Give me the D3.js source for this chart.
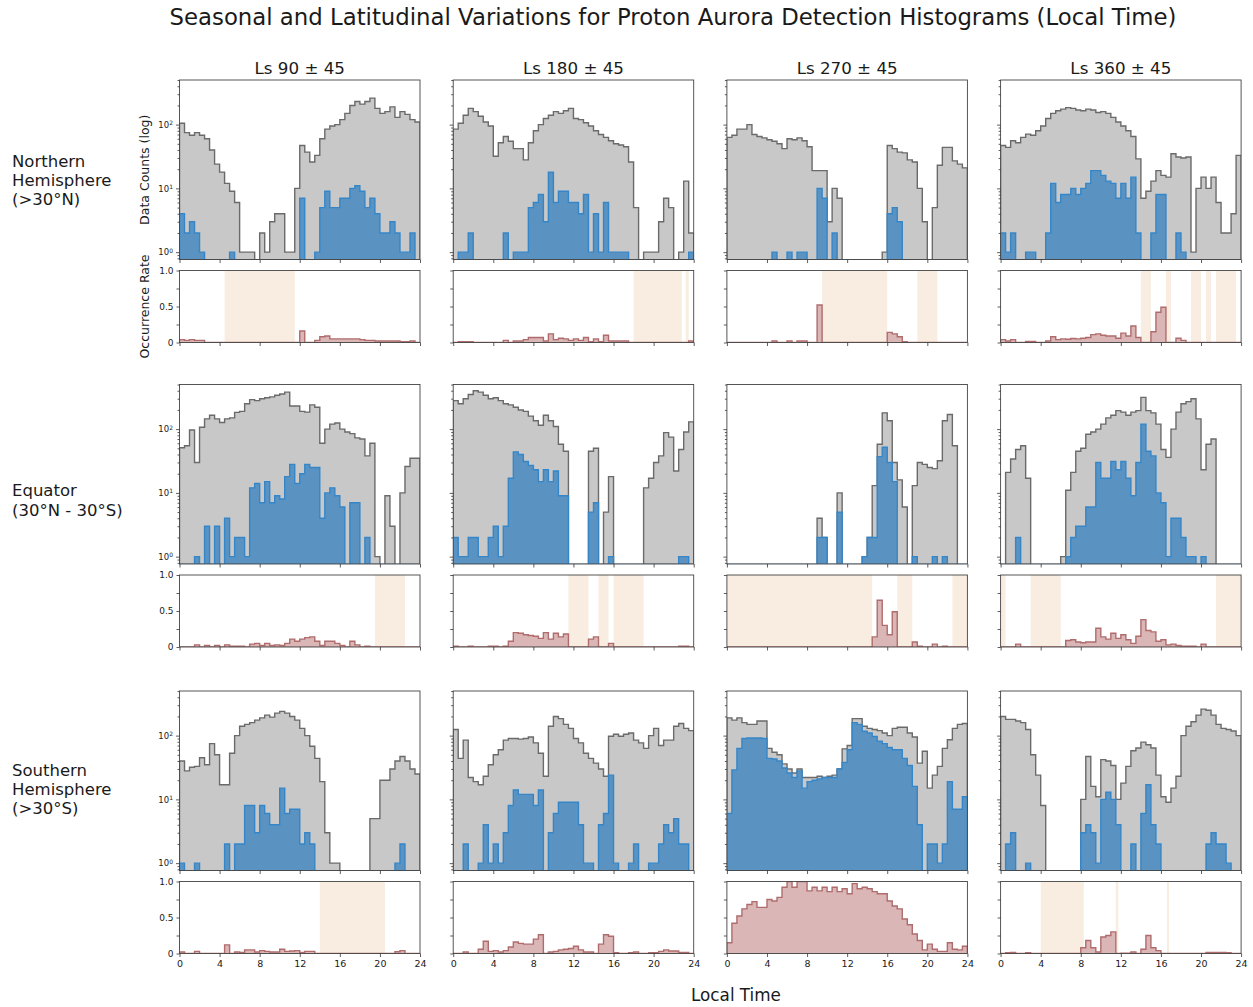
<!DOCTYPE html>
<html>
<head>
<meta charset="utf-8">
<script src="https://cdn.jsdelivr.net/npm/d3@7"></script>
<style>
  body { margin: 0; background: #fff; }
  svg text { font-family: "DejaVu Sans", sans-serif; fill: #1a1a1a; }
</style>
</head>
<body>
<svg id="chart" width="1253" height="1007"></svg>
<script>
const hourTicks = [0, 4, 8, 12, 16, 20, 24];
const seasons = ['Ls 90 ± 45', 'Ls 180 ± 45', 'Ls 270 ± 45', 'Ls 360 ± 45'];
const regions = [
  ['Northern', 'Hemisphere', '(>30°N)'],
  ['Equator', '(30°N - 30°S)'],
  ['Southern', 'Hemisphere', '(>30°S)']
];

// 48 half-hour bins per panel: all detections (grey), aurora detections (blue), occurrence rate
const totalN90 = [105,75,68,75,68,60,40,24,18,12, 9,6,1,1,1,0,2,1,3,4, 4,1,1,10,47,37,26,33,60,85, 95,100,120,150,200,230,210,230,260,180, 150,160,190,130,160,145,120,110];
const auroraN90 = [4,2,3,2,1,0,0,0,0,0, 1,0,0,0,0,0,0,0,0,0, 0,0,0,0,7,0,0,1,5,9, 5,5,7,7,10,11,9,5,7,4, 2,2,3,2,1,1,2,0];
const rateN90 = [0.04,0.03,0.04,0.03,0.03,0,0,0,0,0, 0,0,0,0,0,0,0,0,0,0, 0,0,0,0,0.16,0,0,0.03,0.08,0.09, 0.05,0.05,0.05,0.05,0.05,0.05,0.04,0.03,0.03,0.02, 0.02,0.02,0.02,0.02,0.01,0.01,0.02,0];
const shadeN90 = [[4.5, 11.5]];

const totalN180 = [85,105,140,180,160,135,110,95,32,52, 65,55,42,42,28,52,80,100,125,140, 160,150,165,180,125,120,107,95,80,70, 63,56,50,48,45,26,5,0,1,1, 1,3,7,5,0,1,13,2];
const auroraN180 = [0,1,1,2,0,0,0,0,0,0, 2,0,1,1,1,5,6,8,3,18, 6,9,9,6,6,4,8,1,4,1, 6,1,1,1,1,0,0,0,0,0, 0,0,0,0,0,0,0,1];
const rateN180 = [0,0.01,0.01,0.01,0,0,0,0,0,0, 0.03,0,0.02,0.02,0.04,0.07,0.07,0.07,0.02,0.12, 0.04,0.06,0.05,0.03,0.05,0.03,0.07,0.01,0.05,0.01, 0.1,0.02,0.02,0.02,0.02,0,0,0,0,0, 0,0,0,0,0,0,0,0.02];
const shadeN180 = [[18, 22.8], [23.2, 23.5]];

const totalN270 = [63,68,85,85,100,70,65,62,58,55, 50,42,60,58,62,56,45,19,19,19, 3,10,7,0,0,0,0,0,0,0, 0,1,47,42,37,36,28,26,10,3, 0,5,23,44,44,27,24,21];
const auroraN270 = [0,0,0,0,0,0,0,0,0,1, 0,0,1,0,1,1,0,0,10,7, 0,2,0,0,0,0,0,0,0,0, 0,0,4,5,3,0,0,0,0,0, 0,0,0,0,0,0,0,0];
const rateN270 = [0,0,0,0,0,0,0,0,0,0.02, 0,0,0.02,0,0.02,0.02,0,0,0.52,0, 0,0,0,0,0,0,0,0,0,0, 0,0,0.14,0.12,0.08,0.01,0,0,0,0, 0,0,0,0,0,0,0,0];
const shadeN270 = [[9.5, 16], [19, 21]];

const totalN360 = [47,44,56,52,63,71,68,80,95,125, 150,165,175,185,180,170,165,175,170,155, 160,150,130,110,95,80,65,29,7,9, 13,19,16,15,35,31,30,31,1,10, 15,10,15,6,2,2,4,33];
const auroraN360 = [2,1,2,0,0,1,1,0,0,2, 12,6,8,8,10,8,10,12,19,19, 16,13,12,7,12,7,15,2,0,0, 2,8,8,0,0,2,1,0,0,0, 0,0,0,0,0,0,0,0];
const rateN360 = [0.04,0.02,0.04,0,0,0.015,0.015,0,0,0.02, 0.08,0.04,0.05,0.045,0.055,0.05,0.06,0.07,0.11,0.12, 0.1,0.09,0.09,0.06,0.13,0.09,0.23,0.07,0,0, 0.15,0.42,0.49,0,0,0.06,0.03,0,0,0, 0,0,0,0,0,0,0,0];
const shadeN360 = [[14, 15], [16.5, 17], [19, 20], [20.5, 21], [21.5, 23.5]];

const totalE90 = [51,55,97,30,107,145,165,145,127,145, 150,183,190,250,290,280,300,310,320,340, 355,380,230,230,190,185,240,220,60,100, 120,125,100,90,85,73,70,38,60,1, 0,9,3,0,10,26,35,35];
const auroraE90 = [0,0,0,1,0,3,0,3,0,4, 1,2,2,1,12,14,7,15,7,9, 8,18,28,14,20,28,25,25,4,10, 12,9,6,0,7,7,0,2,0,0, 0,0,0,0,0,0,0,0];
const rateE90 = [0,0,0,0.03,0,0.02,0,0.02,0,0.03, 0.01,0.01,0.01,0,0.04,0.05,0.02,0.05,0.02,0.03, 0.02,0.05,0.11,0.08,0.11,0.13,0.14,0.08,0.02,0.08, 0.08,0.05,0.02,0,0.08,0.03,0,0.01,0,0, 0,0,0,0,0,0,0,0];
const shadeE90 = [[19.5, 22.5]];

const totalE180 = [280,250,300,350,400,380,340,300,310,280, 250,240,220,200,190,160,135,115,165,135, 110,58,45,0,0,0,0,45,50,0, 5,18,0,0,0,0,0,0,12,17, 30,38,88,75,22,48,90,130];
const auroraE180 = [2,1,1,2,2,1,1,2,3,1, 3,17,44,40,31,27,23,15,23,15, 22,9,9,0,0,0,0,5,7,0, 0,1,0,0,0,0,0,0,0,0, 0,0,0,0,0,1,1,0];
const rateE180 = [0.01,0,0,0.01,0,0,0,0.01,0.01,0, 0.01,0.08,0.2,0.19,0.17,0.16,0.15,0.12,0.2,0.11, 0.19,0.14,0.18,0,0,0,0,0.11,0.14,0, 0,0.05,0,0,0,0,0,0,0,0, 0,0,0,0,0,0.01,0.01,0];
const shadeE180 = [[11.5, 13.5], [14.5, 15.5], [16, 19]];

const totalE270 = [0,0,0,0,0,0,0,0,0,0, 0,0,0,0,0,0,0,0,4,2, 0,0,10,0,0,0,0,1,2,13, 58,180,135,30,16,6,0,13,30,28, 25,24,32,135,170,55,0,0];
const auroraE270 = [0,0,0,0,0,0,0,0,0,0, 0,0,0,0,0,0,0,0,2,2, 0,0,5,0,0,0,0,1,2,2, 37,52,30,15,0,0,0,1,0,0, 0,1,0,1,0,0,0,0];
const rateE270 = [0,0,0,0,0,0,0,0,0,0, 0,0,0,0,0,0,0,0,0,0, 0,0,0,0,0,0,0,0,0,0.14, 0.65,0.3,0.17,0.49,0,0,0,0.07,0.01,0, 0,0.04,0,0.01,0,0,0,0];
const shadeE270 = [[0, 14.5], [17, 18.5], [22.5, 24]];

const totalE360 = [0,21,34,48,55,17,0,0,0,0, 0,0,1,11,21,45,50,83,90,100, 120,150,165,195,185,165,185,195,315,195, 180,120,48,36,100,185,250,270,300,145, 23,58,70,0,0,0,0,0];
const auroraE360 = [0,0,0,2,0,0,0,0,0,0, 0,0,0,1,2,3,3,6,6,30, 17,17,31,23,31,17,9,30,120,45, 38,10,7,1,4,4,2,1,1,0, 1,0,0,0,0,0,0,0];
const rateE360 = [0,0,0,0.04,0,0,0,0,0,0, 0,0,0,0.09,0.1,0.07,0.06,0.07,0.07,0.26, 0.14,0.11,0.19,0.12,0.17,0.1,0.05,0.15,0.38,0.23, 0.21,0.08,0.1,0.03,0.04,0.02,0.01,0.01,0.01,0, 0.04,0,0,0,0,0,0,0];
const shadeE360 = [[0, 0.5], [3, 6], [21.5, 24]];

const totalS90 = [40,28,32,33,45,35,75,50,17,17, 53,100,140,150,160,175,190,210,195,225, 240,225,200,175,130,100,68,44,19,3, 1,1,0,0,0,0,0,0,5,5, 20,20,30,40,47,40,30,25];
const auroraS90 = [1,0,0,1,0,0,0,0,0,2, 0,2,2,8,8,3,8,6,4,4, 15,6,7,7,2,3,2,0,0,0, 0,0,0,0,0,0,0,0,0,0, 0,0,0,1,2,0,0,0];
const rateS90 = [0.02,0,0,0.03,0,0,0,0,0,0.12, 0,0.02,0.015,0.05,0.05,0.02,0.04,0.03,0.02,0.02, 0.06,0.03,0.035,0.04,0.015,0.03,0.03,0,0,0, 0,0,0,0,0,0,0,0,0,0, 0,0,0,0.025,0.04,0,0,0];
const shadeS90 = [[14, 20.5]];

const totalS180 = [125,44,85,22,19,17,23,35,50,60, 85,90,90,88,90,95,77,53,23,140, 200,185,150,130,90,77,53,44,37,30, 23,98,105,98,105,110,85,77,63,100, 130,70,85,85,140,155,130,120];
const auroraS180 = [0,0,2,0,0,1,4,1,2,1, 3,8,14,12,12,12,8,14,0,3, 6,9,9,9,9,4,1,1,0,4, 6,24,1,0,0,1,2,0,0,1, 1,2,4,3,5,2,2,0];
const rateS180 = [0,0,0.02,0,0,0.06,0.17,0.03,0.04,0.02, 0.04,0.09,0.16,0.14,0.13,0.13,0.2,0.26,0,0.02, 0.03,0.05,0.06,0.07,0.1,0.05,0.02,0.02,0,0.13, 0.26,0.24,0.01,0,0,0.01,0.02,0,0,0.01, 0.01,0.03,0.05,0.035,0.035,0.015,0.015,0];
const shadeS180 = [];

const totalS270 = [190,175,190,160,150,150,170,170,63,55, 50,36,30,26,30,22,22,22,23,22, 23,24,30,62,70,185,185,140,130,125, 120,110,100,130,135,135,110,95,37,57, 15,24,33,63,86,130,150,155];
const auroraS270 = [6,29,63,90,92,92,92,90,44,43, 40,31,26,22,28,15,19,20,21,22, 22,22,30,38,60,160,150,117,110,97, 82,75,65,60,60,44,34,16,4,0, 2,2,1,2,19,7,7,11];
const rateS270 = [0.15,0.42,0.52,0.62,0.68,0.72,0.64,0.64,0.75,0.73, 0.78,0.92,1.0,0.92,1.0,1.0,0.87,0.92,0.87,0.92, 0.86,0.92,0.86,0.9,0.83,0.97,0.9,0.92,0.9,0.86, 0.83,0.83,0.73,0.66,0.62,0.48,0.4,0.27,0.18,0.05, 0.13,0.06,0.03,0.03,0.15,0.06,0.05,0.1];
const shadeS270 = [];

const totalS360 = [200,180,180,170,160,125,50,24,8,0, 0,0,0,0,0,0,10,47,16,11, 42,40,34,10,18,33,58,64,79,72, 64,24,11,9,15,23,100,140,165,210, 260,250,210,150,130,125,118,100];
const auroraS360 = [0,2,3,0,0,1,0,0,0,0, 0,0,0,0,0,0,3,4,3,1, 10,13,10,4,0,0,2,0,6,17, 4,2,0,0,0,0,0,0,0,0, 0,2,3,2,2,1,0,0];
const rateS360 = [0,0.01,0.015,0,0,0.01,0,0,0,0, 0,0,0,0,0,0,0.08,0.18,0.08,0.02, 0.23,0.25,0.3,0,0.005,0.005,0.02,0,0.06,0.25, 0.08,0.04,0,0,0,0,0,0,0,0, 0,0.015,0.015,0.015,0.015,0.01,0,0];
const shadeS360 = [[4, 8.3], [11.5, 11.75], [16.6, 16.8]];

const panels = [
  [[totalN90, auroraN90, rateN90, shadeN90], [totalN180, auroraN180, rateN180, shadeN180],
   [totalN270, auroraN270, rateN270, shadeN270], [totalN360, auroraN360, rateN360, shadeN360]],
  [[totalE90, auroraE90, rateE90, shadeE90], [totalE180, auroraE180, rateE180, shadeE180],
   [totalE270, auroraE270, rateE270, shadeE270], [totalE360, auroraE360, rateE360, shadeE360]],
  [[totalS90, auroraS90, rateS90, shadeS90], [totalS180, auroraS180, rateS180, shadeS180],
   [totalS270, auroraS270, rateS270, shadeS270], [totalS360, auroraS360, rateS360, shadeS360]]
];

const svg = d3.select('#chart');
const panelW = 240.5, histH = 179.5, rateH = 72, rateOff = 190.5;
const colLeft = c => 179.5 + c * 273.7;
const rowTop = [80, 384.5, 691];
const labelMid = [180, 500, 789];

const x = d3.scaleLinear().domain([0, 24]).range([0, panelW]);
const y = d3.scaleLog().domain([0.767, 501]).range([histH, 0]);
const yr = d3.scaleLinear().domain([0, 1]).range([rateH, 0]);
const edges = d3.range(49).map(i => i * 0.5);

const majorLog = [1, 10, 100];
const minorLog = [];
[0.1, 1, 10, 100].forEach(p => d3.range(2, 10).forEach(m => {
  const v = m * p;
  if (v >= y.domain()[0] && v <= y.domain()[1]) minorLog.push(v);
}));

// turn bin values into step points (last edge repeats last bin)
const steps = vals => edges.map((t, i) => ({ t, v: vals[Math.min(i, vals.length - 1)] }));

function styleAxis(g, size) {
  g.select('.domain').remove();
  g.selectAll('.tick line').attr('stroke', '#333').attr('stroke-width', 0.8);
  g.attr('font-family', 'DejaVu Sans').attr('font-size', size);
  g.selectAll('.tick text').attr('fill', '#1a1a1a');
}

panels.forEach((row, r) => row.forEach((p, c) => {
  const [total, aurora, rate, shade] = p;
  const g = svg.append('g').attr('transform', `translate(${colLeft(c)},${rowTop[r]})`);

  // --- histogram (log counts)
  const clipId = `clip-${r}-${c}`;
  g.append('clipPath').attr('id', clipId)
    .append('rect').attr('width', panelW).attr('height', histH);
  const hist = g.append('g').attr('clip-path', `url(#${clipId})`);

  const histArea = d3.area()
    .curve(d3.curveStepAfter)
    .x(d => x(d.t))
    .y0(histH + 0.5)
    .y1(d => d.v > 0 ? y(d.v) : histH + 0.5);

  hist.append('path').datum(steps(total))
    .attr('d', histArea)
    .attr('fill', '#c8c8c8').attr('stroke', '#6a6a6a').attr('stroke-width', 1.4);
  hist.append('path').datum(steps(aurora))
    .attr('d', histArea)
    .attr('fill', '#5a93c1').attr('stroke', '#3486c9').attr('stroke-width', 1.4);

  g.append('rect').attr('width', panelW).attr('height', histH)
    .attr('fill', 'none').attr('stroke', '#444').attr('stroke-width', 0.9);

  g.append('g').attr('transform', `translate(0,${histH})`)
    .call(d3.axisBottom(x).tickValues(hourTicks).tickSize(3.5).tickSizeOuter(0).tickFormat(() => ''))
    .call(a => styleAxis(a, 9));

  g.append('g')
    .call(d3.axisLeft(y).tickValues(minorLog).tickSize(2).tickFormat(() => ''))
    .call(a => styleAxis(a, 9));
  const yAx = g.append('g')
    .call(d3.axisLeft(y).tickValues(majorLog).tickSize(3.5).tickPadding(3).tickFormat(() => ''))
    .call(a => styleAxis(a, 8.5));
  if (c === 0) {
    yAx.selectAll('.tick text').each(function (d) {
      const t = d3.select(this);
      t.text('10');
      t.append('tspan').attr('dy', '-0.45em').attr('font-size', 6).text(Math.round(Math.log10(d)));
    });
  }

  // --- occurrence rate
  const rg = g.append('g').attr('transform', `translate(0,${rateOff})`);
  const rClip = `rclip-${r}-${c}`;
  rg.append('clipPath').attr('id', rClip)
    .append('rect').attr('width', panelW).attr('height', rateH);
  const rate_g = rg.append('g').attr('clip-path', `url(#${rClip})`);

  rate_g.selectAll('.shade').data(shade).enter().append('rect')
    .attr('class', 'shade')
    .attr('x', d => x(d[0]))
    .attr('width', d => x(d[1]) - x(d[0]))
    .attr('y', 0).attr('height', rateH)
    .attr('fill', '#f9ede1');

  const rateArea = d3.area()
    .curve(d3.curveStepAfter)
    .x(d => x(d.t))
    .y0(yr(0) + 0.5)
    .y1(d => yr(d.v));
  rate_g.append('path').datum(steps(rate))
    .attr('d', rateArea)
    .attr('fill', '#dab6b6').attr('stroke', '#b06c6c').attr('stroke-width', 1.4);

  rg.append('rect').attr('width', panelW).attr('height', rateH)
    .attr('fill', 'none').attr('stroke', '#444').attr('stroke-width', 0.9);

  rg.append('g').attr('transform', `translate(0,${rateH})`)
    .call(d3.axisBottom(x).tickValues(hourTicks).tickSize(3.5).tickSizeOuter(0)
      .tickFormat(r === 2 ? d3.format('d') : () => ''))
    .call(a => styleAxis(a, 9.5));

  rg.append('g')
    .call(d3.axisLeft(yr).tickValues([0, 0.25, 0.5, 0.75, 1]).tickSize(3).tickPadding(3)
      .tickFormat(d => c === 0 && d % 0.5 === 0 ? (d === 0 ? '0' : d.toFixed(1)) : ''))
    .call(a => styleAxis(a, 9));

  if (r === 0 && c === 0) {
    g.append('text').attr('transform', `translate(-35,${histH / 2}) rotate(-90)`)
      .attr('text-anchor', 'middle').attr('dy', '0.35em').attr('font-size', 12.5).text('Data Counts (log)');
    rg.append('text').attr('transform', `translate(-35,${rateH / 2}) rotate(-90)`)
      .attr('text-anchor', 'middle').attr('dy', '0.35em').attr('font-size', 12.5).text('Occurrence Rate');
  }
  if (r === 0) {
    g.append('text').attr('x', panelW / 2).attr('y', -12)
      .attr('text-anchor', 'middle').attr('dy', '0.35em').attr('font-size', 16.7).text(seasons[c]);
  }
}));

// row labels
regions.forEach((lines, r) => {
  svg.append('text')
    .attr('x', 12).attr('y', labelMid[r] - (lines.length - 1) * 9.5)
    .attr('font-size', 16.5)
    .selectAll('tspan').data(lines).enter().append('tspan')
    .attr('x', 12).attr('dy', (d, i) => i === 0 ? '0.35em' : 19.3)
    .text(d => d);
});

svg.append('text').attr('x', 673).attr('y', 17).attr('dy', '0.35em')
  .attr('text-anchor', 'middle').attr('font-size', 22.8)
  .text('Seasonal and Latitudinal Variations for Proton Aurora Detection Histograms (Local Time)');

svg.append('text').attr('x', 736).attr('y', 995).attr('dy', '0.35em')
  .attr('text-anchor', 'middle').attr('font-size', 16.8).text('Local Time');
</script>
</body>
</html>
